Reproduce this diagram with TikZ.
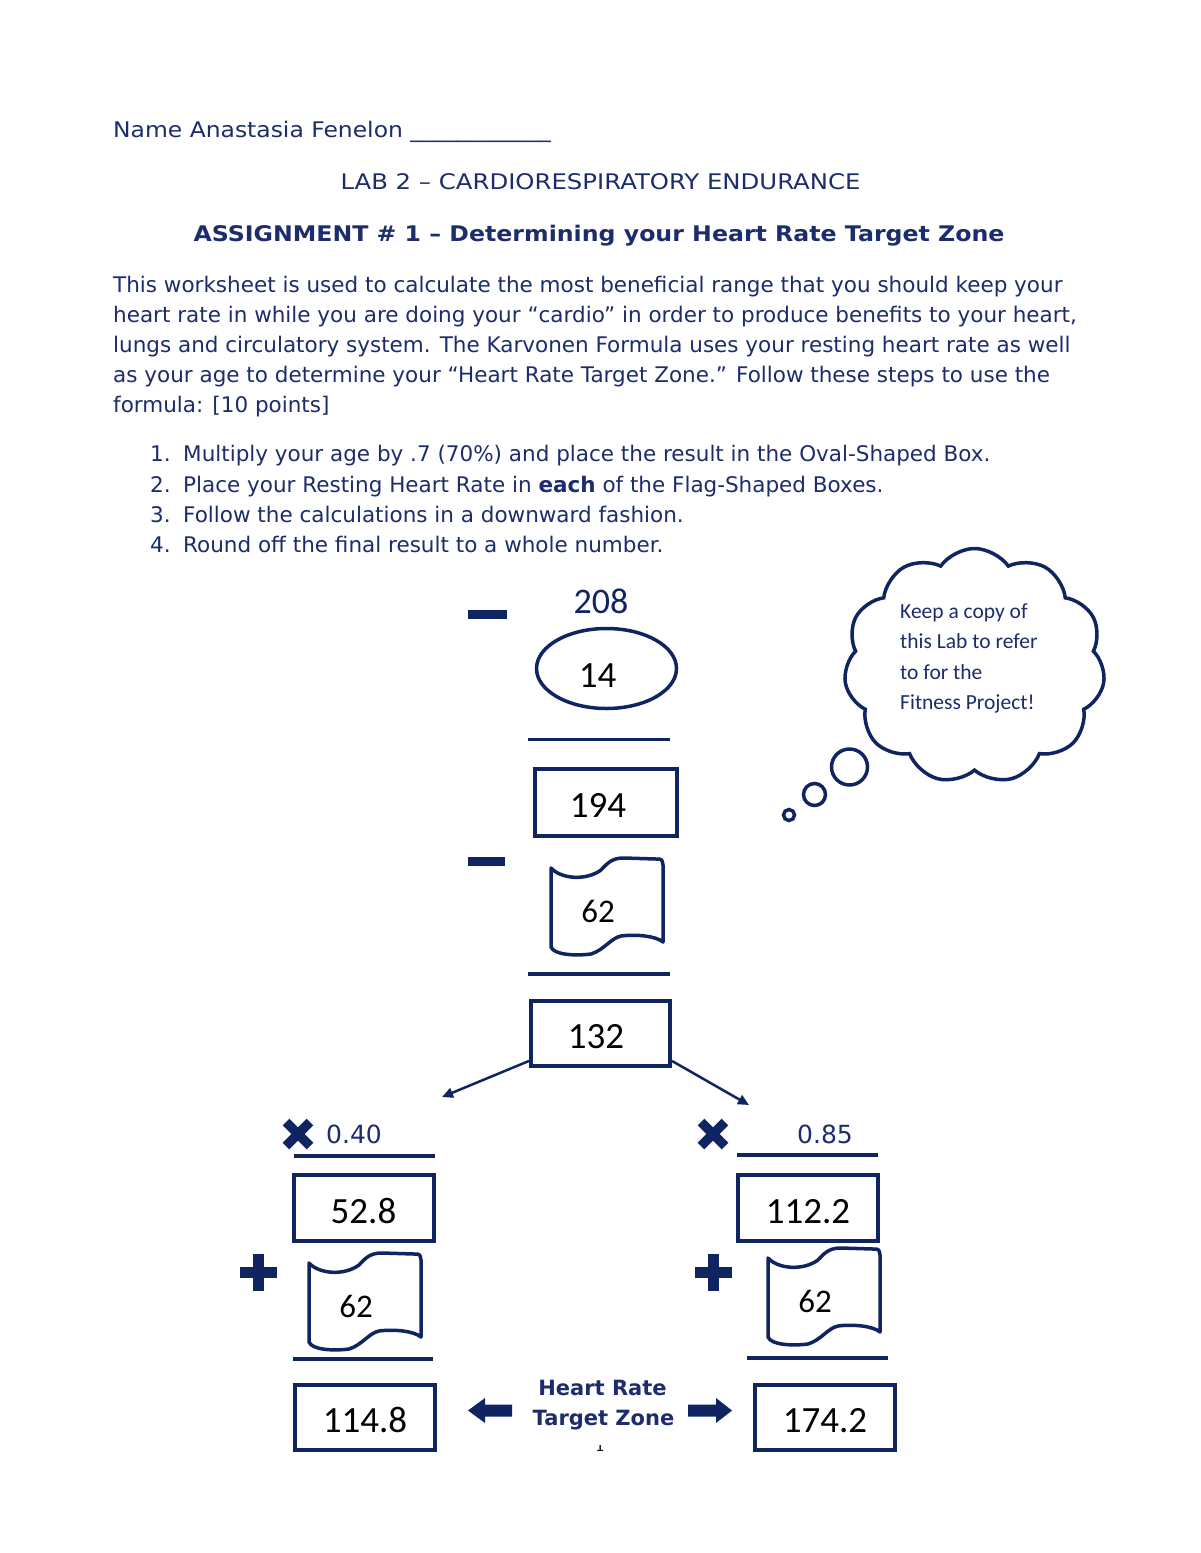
\documentclass[tikz,border=0pt]{standalone}
\usepackage{fontspec}
\usepackage{graphicx}
\setmainfont{DejaVu Sans}
\newfontfamily\calfont{Carlito}
\usetikzlibrary{shapes.geometric,shapes.symbols,arrows.meta}
\definecolor{navy}{RGB}{16,36,98}
\definecolor{navytext}{RGB}{28,44,108}
\newcommand\bodysize{\fontsize{21.5}{30}\selectfont}
\newcommand\flagbox[4]{%
  \begin{scope}[shift={(#2,#3)}]
    \draw[flagline] (-55,-37) .. controls (-45,-26) and (-20,-24) .. (-5,-35)
      .. controls (3,-44) and (8,-47) .. (18,-47) -- (50,-46)
      .. controls (56,-46) .. (57,-40) -- (57,37)
      .. controls (50,31) and (30,29) .. (15,31)
      .. controls (5,33) and (-2,45) .. (-15,49)
      .. controls (-30,51) and (-52,50) .. (-55,42) -- cycle;
  \end{scope}
  \node[flagnum] (#1) at ({#2-8},{#3+6}) {#4};
}
\begin{document}
\begin{tikzpicture}[x=1pt,y=-1pt,
  txt/.style={anchor=base west, inner sep=0pt, text=navytext, font=\bodysize},
  ctxt/.style={txt, anchor=base},
  numbox/.style={draw=navy, line width=4pt, inner sep=0pt, minimum width=140pt, minimum height=66pt,
    font=\calfont\fontsize{37}{40}\selectfont, text=black, text height=30pt, text depth=0pt},
  flagline/.style={draw=navy, line width=3.5pt, line join=round},
  flagnum/.style={inner sep=0pt, font=\calfont\fontsize{33}{36}\selectfont, text=black},
  sumline/.style={draw=navy, line width=3.5pt},
  conn/.style={draw=navy, line width=2.5pt, -{Triangle[length=11pt,width=10pt]}},
  xmark/.style={draw=navy, line width=9.5pt},
  factor/.style={anchor=base west, inner sep=0pt, text=navytext, font=\fontsize{25}{28}\selectfont},
  cloudtxt/.style={anchor=base west, inner sep=0pt, text=navytext, font=\calfont\fontsize{21.5}{24}\selectfont},
  bubble/.style={circle, draw=navy, line width=3.5pt, inner sep=0pt},
  zone/.style={anchor=base, inner sep=0pt, text=navytext, font=\fontsize{21}{25}\selectfont\bfseries}]
\path[use as bounding box, fill=white] (0,0) rectangle (1200,1553);

% header
\node[txt] (name) at (113,137) {\scalebox{1.09}[1]{Name Anastasia Fenelon \_\_\_\_\_\_\_\_\_\_\_\_}};
\node[ctxt] (lab) at (600.5,189) {\scalebox{1.133}[1]{LAB 2 – CARDIORESPIRATORY ENDURANCE}};
\node[ctxt, font=\bodysize\bfseries] (assign) at (599,241) {\scalebox{1.10}[1]{ASSIGNMENT \# 1 – Determining your Heart Rate Target Zone}};
\node[txt] (p1) at (113,292) {This worksheet is used to calculate the most beneficial range that you should keep your};
\node[txt] (p2) at (113,322) {heart rate in while you are doing your “cardio” in order to produce benefits to your heart,};
\node[txt] (p3) at (113,352) {lungs and circulatory system. The Karvonen Formula uses your resting heart rate as well};
\node[txt] (p4) at (113,382) {as your age to determine your “Heart Rate Target Zone.” Follow these steps to use the};
\node[txt] (p5) at (113,412) {formula: [10 points]};
\node[txt] (n1) at (150,461) {1.};
\node[txt] (l1) at (183,461) {Multiply your age by .7 (70\%) and place the result in the Oval-Shaped Box.};
\node[txt] (n2) at (150,492) {2.};
\node[txt] (l2) at (183,492) {Place your Resting Heart Rate in \textbf{each} of the Flag-Shaped Boxes.};
\node[txt] (n3) at (150,522) {3.};
\node[txt] (l3) at (183,522) {Follow the calculations in a downward fashion.};
\node[txt] (n4) at (150,552) {4.};
\node[txt] (l4) at (183,552) {Round off the final result to a whole number.};

% top column
\fill[navy] (468,610) rectangle (507,619);
\node[inner sep=0pt, font=\calfont\fontsize{36}{40}\selectfont, text=navy] (n208) at (601,601) {208};
\node[ellipse, draw=navy, line width=3.5pt, minimum width=140pt, minimum height=80pt, inner sep=0pt,
  font=\calfont\fontsize{37}{40}\selectfont, text height=37pt, text depth=0pt] (oval) at (606.5,668.5) {\kern-18pt 14};
\draw[sumline] (528,739.5) -- (670,739.5);
\node[numbox, minimum width=142pt, minimum height=67pt] (box194) at (606,802.5) {\kern-16pt 194};
\fill[navy] (468,857) rectangle (505,866);
\flagbox{flag1}{606}{905}{62}
\draw[sumline] (528,974) -- (670,974);
\node[numbox, minimum width=139pt, minimum height=65pt] (box132) at (600.5,1033.5) {\kern-9pt 132};
\coordinate (tipL) at (442,1097);
\coordinate (tipR) at (749,1105);
\draw[conn] (box132.201) -- (tipL);
\draw[conn] (box132.339) -- (tipR);

% left column
\draw[xmark] (286,1122) -- (310,1146) (286,1146) -- (310,1122);
\node[factor] (f40) at (326,1143) {0.40};
\draw[sumline] (294,1156) -- (435,1156);
\node[numbox] (box528) at (363.5,1208) {52.8};
\fill[navy] (239.5,1266.5) rectangle (276.5,1277.5);
\fill[navy] (252.5,1253.5) rectangle (263.5,1290.5);
\flagbox{flag2}{364}{1300}{62}
\draw[sumline] (293,1359) -- (433,1359);
\node[numbox, minimum height=65pt] (box1148) at (365,1417.5) {114.8};

% right column
\draw[xmark] (701,1122) -- (725,1146) (701,1146) -- (725,1122);
\node[factor] (f85) at (797,1143) {0.85};
\draw[sumline] (737,1155) -- (878,1155);
\node[numbox] (box1122) at (808,1208) {112.2};
\fill[navy] (694.5,1266.5) rectangle (731.5,1277.5);
\fill[navy] (707.5,1253.5) rectangle (718.5,1290.5);
\flagbox{flag3}{823}{1295}{62}
\draw[sumline] (747,1358) -- (888,1358);
\node[numbox, minimum height=65pt] (box1742) at (825,1417.5) {174.2};

% target zone
\node[zone] (hr1) at (602.5,1395) {Heart Rate};
\node[zone] (hr2) at (603.5,1425) {Target Zone};
\fill[navy] (468,1410.5) -- (485,1398) -- (485,1404.5) -- (512,1404.5) -- (512,1416.5) -- (485,1416.5) -- (485,1423) -- cycle;
\fill[navy] (732,1410.5) -- (716,1398) -- (716,1404.5) -- (688,1404.5) -- (688,1416.5) -- (716,1416.5) -- (716,1423) -- cycle;
\begin{scope}
  \clip (593,1445) rectangle (607,1453);
  \node[inner sep=0pt, anchor=base, font=\fontsize{14}{14}\selectfont] (pg) at (600,1451) {1};
\end{scope}

% thought cloud
\node[cloud, draw=navy, line width=3.5pt, cloud puffs=11, cloud puff arc=110, cloud ignores aspect,
  minimum width=261pt, minimum height=235pt, inner sep=0pt] (cloud) at (974.5,666) {};
\node[cloudtxt] (c1) at (900,618) {Keep a copy of};
\node[cloudtxt] (c2) at (900,648.5) {this Lab to refer};
\node[cloudtxt] (c3) at (900,679) {to for the};
\node[cloudtxt] (c4) at (900,709) {Fitness Project!};
\node[bubble, minimum size=36pt] (b1) at (849.5,767) {};
\node[bubble, minimum size=22pt] (b2) at (814.5,794.5) {};
\node[bubble, minimum size=11pt] (b3) at (789,815) {};
\end{tikzpicture}
\end{document}
